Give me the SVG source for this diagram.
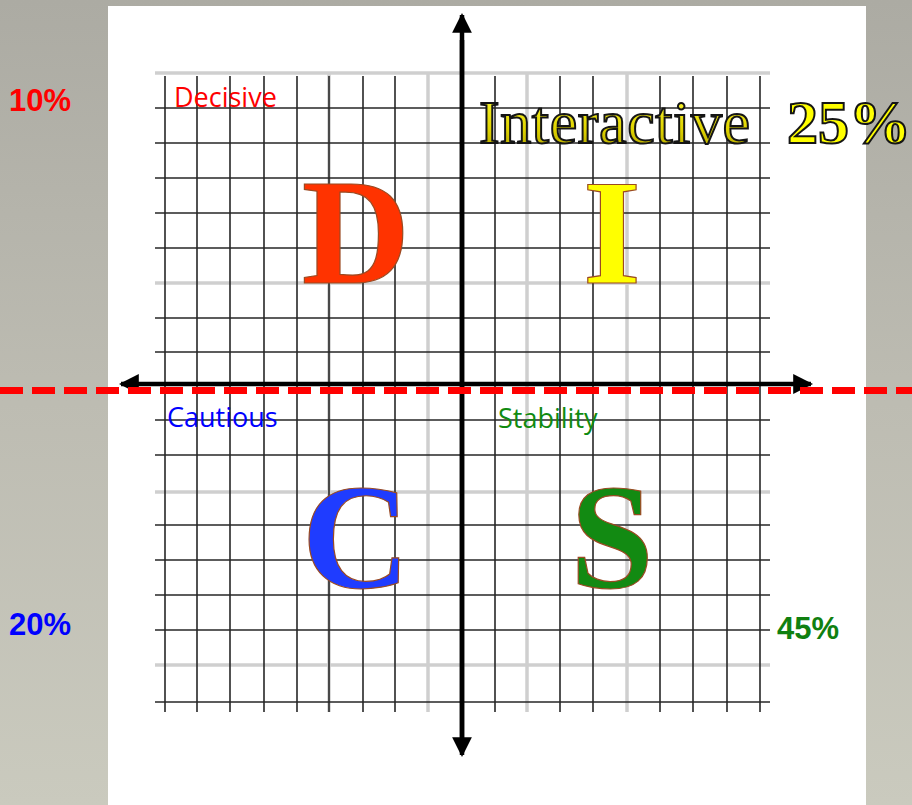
<svg xmlns="http://www.w3.org/2000/svg" width="912" height="805" viewBox="0 0 912 805">
  <defs>
    <linearGradient id="bg" x1="0" y1="0" x2="0" y2="1">
      <stop offset="0" stop-color="#acaba3"/>
      <stop offset="0.5" stop-color="#bdbcb2"/>
      <stop offset="1" stop-color="#cacabe"/>
    </linearGradient>
    <linearGradient id="gold" x1="0" y1="0" x2="0" y2="1">
      <stop offset="0" stop-color="#ffff40"/>
      <stop offset="0.6" stop-color="#e0d400"/>
      <stop offset="1" stop-color="#a89c00"/>
    </linearGradient>
    <marker id="ah" viewBox="0 0 10 10" refX="9" refY="5" markerWidth="4.4" markerHeight="4.4" orient="auto" markerUnits="strokeWidth">
      <path d="M0,0 L10,5 L0,10 Z" fill="#000"/>
    </marker>
    <style>
      .grid { stroke: #262626; stroke-width: 1.6; }
      .band { stroke: #cfcfcf; stroke-width: 3.5; }
      .axis { stroke: #000; stroke-width: 4.5; fill: none; }
      .lbl { font-family: "Open Sans", "Liberation Sans", sans-serif; font-size: 27px; }
      .pct { font-family: "Liberation Sans", Arial, sans-serif; font-size: 31px; font-weight: bold; }
      .big { font-family: "Liberation Serif", "Times New Roman", serif; font-size: 150px; font-weight: bold; text-anchor: middle; stroke: #9a4a22; stroke-width: 1.2; }
      .head { font-family: "Liberation Serif", "Times New Roman", serif; font-size: 62px; stroke: #151515; stroke-width: 2; }
      .inter { fill: url(#gold); letter-spacing: 0.6px; }
      .quarter { fill: #ffff00; font-weight: bold; }
    </style>
  </defs>

  <rect x="0" y="0" width="912" height="805" fill="url(#bg)"/>
  <rect x="108" y="6" width="758" height="799" fill="#ffffff"/>

  <g id="grid">
    <g class="band">
      <line x1="155" y1="73" x2="770" y2="73"/>
      <line x1="155" y1="283" x2="770" y2="283"/>
      <line x1="155" y1="492" x2="770" y2="492"/>
      <line x1="155" y1="665" x2="770" y2="665"/>
      <line x1="428" y1="73" x2="428" y2="712"/>
      <line x1="527" y1="73" x2="527" y2="712"/>
      <line x1="627" y1="73" x2="627" y2="712"/>
      <line x1="329" y1="73" x2="329" y2="712"/>
    </g>
    <g class="grid">
      <line x1="155" y1="108" x2="770" y2="108"/>
      <line x1="155" y1="143" x2="770" y2="143"/>
      <line x1="155" y1="178" x2="770" y2="178"/>
      <line x1="155" y1="213" x2="770" y2="213"/>
      <line x1="155" y1="248" x2="770" y2="248"/>
      <line x1="155" y1="318" x2="770" y2="318"/>
      <line x1="155" y1="352" x2="770" y2="352"/>
      <line x1="155" y1="420" x2="770" y2="420"/>
      <line x1="155" y1="455" x2="770" y2="455"/>
      <line x1="155" y1="525" x2="770" y2="525"/>
      <line x1="155" y1="560" x2="770" y2="560"/>
      <line x1="155" y1="595" x2="770" y2="595"/>
      <line x1="155" y1="630" x2="770" y2="630"/>
      <line x1="155" y1="702" x2="770" y2="702"/>
      <line x1="165" y1="76" x2="165" y2="712"/>
      <line x1="197" y1="76" x2="197" y2="712"/>
      <line x1="230" y1="76" x2="230" y2="712"/>
      <line x1="264" y1="76" x2="264" y2="712"/>
      <line x1="297" y1="76" x2="297" y2="712"/>
      <line x1="329" y1="76" x2="329" y2="712"/>
      <line x1="363" y1="76" x2="363" y2="712"/>
      <line x1="395" y1="76" x2="395" y2="712"/>
      <line x1="495" y1="76" x2="495" y2="712"/>
      <line x1="560" y1="76" x2="560" y2="712"/>
      <line x1="593" y1="76" x2="593" y2="712"/>
      <line x1="660" y1="76" x2="660" y2="712"/>
      <line x1="693" y1="76" x2="693" y2="712"/>
      <line x1="727" y1="76" x2="727" y2="712"/>
      <line x1="760" y1="76" x2="760" y2="712"/>
    </g>
  </g>

  <g id="connectors">
    <line class="axis" x1="462" y1="740" x2="462" y2="15" marker-end="url(#ah)"/>
    <line class="axis" x1="462" y1="40" x2="462" y2="755" marker-end="url(#ah)"/>
    <line class="axis" x1="462" y1="384" x2="121" y2="384" marker-end="url(#ah)"/>
    <line class="axis" x1="462" y1="384" x2="811" y2="384" marker-end="url(#ah)"/>
    <line x1="0" y1="390.5" x2="912" y2="390.5" stroke="#ff0000" stroke-width="7" stroke-dasharray="23 9" stroke-dashoffset="32"/>
  </g>

  <g id="decisive">
    <text class="pct" x="9" y="111" fill="#ff0000">10%</text>
    <text class="lbl" x="174" y="107" fill="#ff0000">Decisive</text>
    <text class="big" x="356" y="283" fill="#ff3300">D</text>
  </g>

  <g id="interactive">
    <text class="head inter" x="479" y="143">Interactive</text>
    <text class="head quarter" x="787" y="143">25%</text>
    <text class="big" x="612" y="283" fill="#ffff00">I</text>
  </g>

  <g id="cautious">
    <text class="pct" x="9" y="635" fill="#0000ff">20%</text>
    <text class="lbl" x="167" y="427" fill="#0000ff">Cautious</text>
    <text class="big" x="356" y="588" fill="#1f3cff">C</text>
  </g>

  <g id="stability">
    <text class="pct" x="777" y="639" fill="#108010">45%</text>
    <text class="lbl" x="498" y="428" fill="#108a10">Stability</text>
    <text class="big" x="612" y="588" fill="#128a12">S</text>
  </g>
</svg>
